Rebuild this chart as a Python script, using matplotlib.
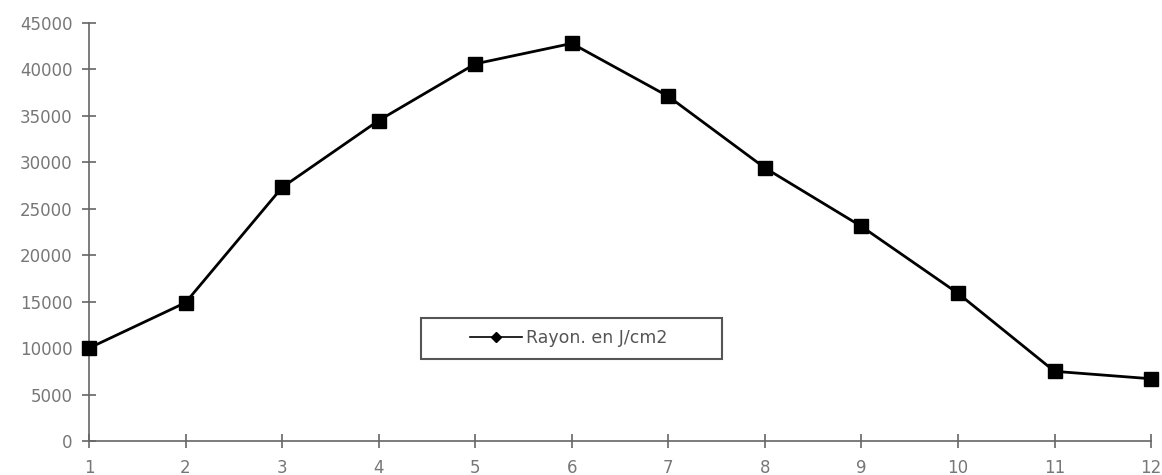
import numpy as np
import matplotlib
matplotlib.use('Agg')
import matplotlib.pyplot as plt
from matplotlib.lines import Line2D
from matplotlib.patches import Rectangle

# 数据
mois = [1, 2, 3, 4, 5, 6, 7, 8, 9, 10, 11, 12]
rayon = [10000, 14900, 27300, 34500, 40600, 42800,
         37100, 29400, 23100, 15900, 7500, 6700]
y_ticks = [0, 5000, 10000, 15000, 20000, 25000,
           30000, 35000, 40000, 45000]

fig = plt.figure(figsize=(11.62, 4.75), dpi=100, facecolor='white')
ax = fig.add_axes([0.0766, 0.0716, 0.914, 0.88])

ax.plot(mois, rayon, color='black', linewidth=2.0,
        marker='s', markersize=10.5, markerfacecolor='black',
        markeredgecolor='black', clip_on=False, zorder=3)

ax.set_xlim(1, 12)
ax.set_ylim(0, 45000)
ax.set_xticks(mois)
ax.set_yticks(y_ticks)

for s in ['top', 'right']:
    ax.spines[s].set_visible(False)
for s in ['left', 'bottom']:
    ax.spines[s].set_color('#666666')
    ax.spines[s].set_linewidth(1.2)

ax.tick_params(direction='inout', length=10, width=1.2, color='#666666',
               labelcolor='#777777', labelsize=12)
ax.tick_params(axis='x', pad=8)
ax.tick_params(axis='y', pad=7)

# 图例框
box = Rectangle((0.3126, 0.196), 0.2834, 0.098, transform=ax.transAxes,
                facecolor='white', edgecolor='#555555', linewidth=1.5,
                zorder=4)
ax.add_patch(box)

# 图例
handle = Line2D([0], [0], color='black', linewidth=1.2, marker='D',
                markersize=5)
leg = ax.legend([handle], ['Rayon. en J/cm2'], loc='center left',
                bbox_to_anchor=(0.3588, 0.246), frameon=False,
                fontsize=12.5, handlelength=3.0, borderpad=0,
                borderaxespad=0, handletextpad=0.2)
leg.set_zorder(5)
for t in leg.get_texts():
    t.set_color('#555555')

fig.savefig('out.png', dpi=100, facecolor='white')
